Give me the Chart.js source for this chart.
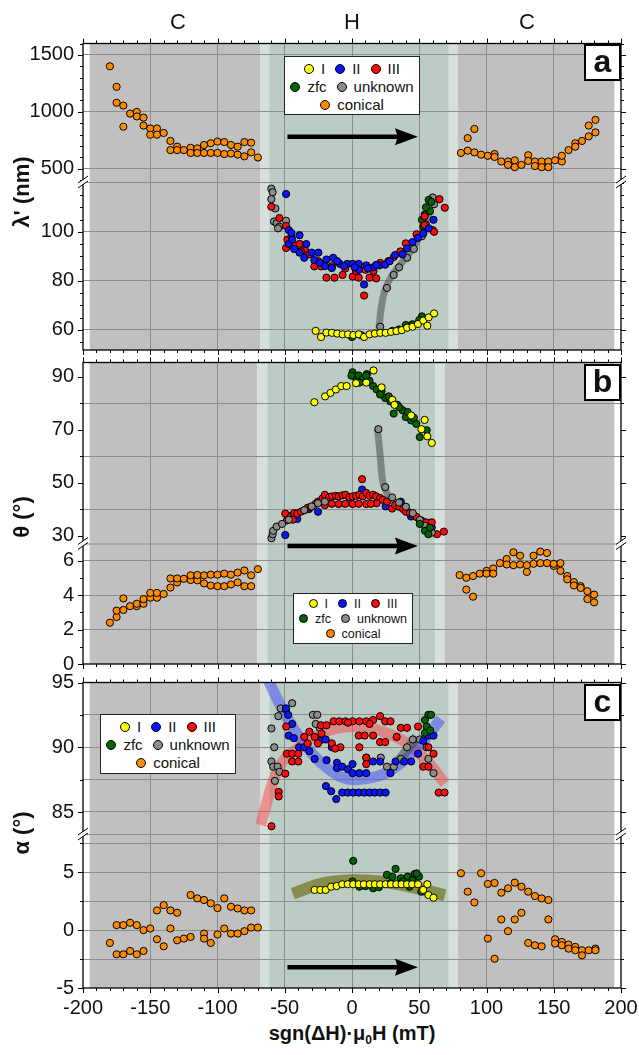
<!DOCTYPE html>
<html>
<head>
<meta charset="utf-8">
<script src="https://cdn.jsdelivr.net/npm/chart.js@4.4.0/dist/chart.umd.min.js"></script>
<style>
  body { margin: 0; background: #fff; font-family: "Liberation Sans", Arial, sans-serif; color: #111; }
  #wrap { position: relative; width: 639px; height: 1055px; overflow: hidden; }
  canvas { position: absolute; left: 0; }
  .top { position: absolute; top: 9px; font-size: 22px; line-height: 26px; transform: translateX(-50%); }
  .yt { position: absolute; font-size: 22px; font-weight: bold; white-space: nowrap; transform: translate(-50%, -50%) rotate(-90deg); }
  .xt { position: absolute; left: 352px; top: 1022px; font-size: 20px; font-weight: bold; white-space: nowrap; transform: translateX(-50%); }
  .xt sub { font-size: 12px; vertical-align: -4px; }
  .pl { position: absolute; left: 584px; width: 33px; height: 33px; border: 2px solid #000; background: #fff; font-size: 32px; font-weight: bold; text-align: center; line-height: 31px; }
  .leg { position: absolute; background: #fff; border: 1px solid #222; box-sizing: border-box; text-align: center; }
  .leg div { white-space: nowrap; }
  .leg span { display: inline-block; margin: 0 5px; }
  .leg i { display: inline-block; border: 1px solid #000; border-radius: 50%; vertical-align: middle; margin-right: 7px; position: relative; top: -1px; }
</style>
</head>
<body>
<div id="wrap">
  <canvas id="pa" width="639" height="337" style="top:25px;width:639px;height:337px"></canvas>
  <canvas id="pb" width="639" height="328" style="top:350px;width:639px;height:328px"></canvas>
  <canvas id="pc" width="639" height="352" style="top:668px;width:639px;height:352px"></canvas>

  <div class="top" style="left:178px">C</div>
  <div class="top" style="left:352px">H</div>
  <div class="top" style="left:527px">C</div>

  <div class="yt" style="left:22px;top:192px">λ' (nm)</div>
  <div class="yt" style="left:22px;top:517px">θ (°)</div>
  <div class="yt" style="left:22px;top:833px">α (°)</div>
  <div class="xt">sgn(ΔH)·μ<sub>0</sub>H (mT)</div>

  <div class="pl" style="top:44px">a</div>
  <div class="pl" style="top:364px">b</div>
  <div class="pl" style="top:684px">c</div>

  <div class="leg" id="lega" style="left:284px;top:56px;width:136px;height:59px;font-size:15px;line-height:18px;padding-top:3px"></div>
  <div class="leg" id="legb" style="left:293px;top:593px;width:120px;height:51px;font-size:12.5px;line-height:15px;padding-top:3px"></div>
  <div class="leg" id="legc" style="left:100px;top:714px;width:136px;height:60px;font-size:15px;line-height:18px;padding-top:3px"></div>
</div>

<script>
// ---- field axis and shaded regions (mT) ----
const shadeAC = [-195, -68, -61.5, 72, 78.5, 195];
const shadeB = [-195, -70.5, -63, 62, 69, 195];

// ---- panel a : lambda' (nm) ----
const aConical = [[-180,1400],[-175,1220],[-175,1080],[-170,1055],[-170,870],[-165,985],[-160,1000],[-160,960],[-155,950],[-155,880],[-150,855],[-145,855],[-150,800],[-145,800],[-140,815],[-135,745],[-135,665],[-130,695],[-130,665],[-125,665],[-120,685],[-120,640],[-115,680],[-115,640],[-110,710],[-110,640],[-105,725],[-105,640],[-100,740],[-100,640],[-95,735],[-95,630],[-90,710],[-90,635],[-85,695],[-85,625],[-80,735],[-80,610],[-75,730],[-75,645],[-70,600],
  [81,640],[86,770],[91,850],[86,660],[91,645],[96,625],[101,615],[106,630],[106,605],[111,565],[116,565],[116,535],[121,575],[121,515],[126,535],[131,620],[131,570],[136,565],[136,525],[141,565],[141,515],[146,565],[146,515],[151,575],[156,565],[156,615],[161,665],[166,725],[166,695],[171,745],[176,785],[176,880],[181,930],[181,820]];
const aYellow = [[-27,59.6],[-23,57.1],[-19,58.9],[-15,58.8],[-11,58.5],[-7,58.2],[-3,58.2],[1,57.9],[5,58.2],[9,57.1],[13,58.2],[17,58.5],[21,58.8],[25,58.8],[29,59.2],[33,59.5],[37,59.9],[41,60.9],[45,61.3],[49,62.4],[53,63.8],[57,65.1],[56,61.7],[61,66.7]];
const aBlue = [[-49,115.4],[-47,100.7],[-45,99.5],[-47,95],[-44.5,96.8],[-43,93],[-39,98.6],[-39,91.5],[-34,95],[-35.5,89.4],[-30,91.5],[-28,88.5],[-25,91.5],[-24,87.3],[-19,88.7],[-14,89.4],[-15,85.2],[-9,86.9],[-3.5,86.9],[0.5,86.9],[5,86.9],[5,84.5],[10.6,86.3],[15.7,85.5],[20.4,86.3],[24.7,86.6],[9,78.5],[28,88],[32,90.5],[37.5,90.8],[41,93.2],[45,95.8],[49,97.5],[53,99.3],[57,101.4],[60.6,104.9],[-20,86],[-11,88],[-6,86],[2,85.5],[12,85],[18,86.5]];
const aRed = [[-60,110.2],[-54,105.6],[-49,102.4],[-49,93.4],[-48,96.8],[-43,94.4],[-39,95.1],[-35,92.5],[-32,90.8],[-28,85.9],[-23,85.9],[-19,81.3],[-13,81.3],[-7,82.4],[0.5,81.7],[5,81.3],[13,81.3],[18,81],[9,74],[21,87.3],[31,89.7],[40,95.3],[48,99],[54,102.8],[60,100.7],[61,100],[65,113.3],[69,109.8],[54,106.3],[-25,88],[-15,86],[-5,85],[3,84],[10,84.5],[16,84],[27,88],[36,92],[-45,98],[-38,92]];
const aGreen = [[57,113],[59,112.2],[58,108.4],[54,107],[52,104.9],[53,102.1],[55,110],[52,65.5],[40,62],[30,59.6],[0,57.1],[7,57.8],[35,60.2],[45,62.3],[50,64]];
const aGray = [[-60,117.6],[-59,116.1],[-60,113.3],[-57,109.5],[-58,104.2],[-56,103.5],[-54,102.1],[-55,101.4],[-49,104.5],[21,61.3],[26,77.1],[31,82.4],[35,85.5],[41,89.4],[46,93],[52,98.2],[55,103],[61,111.2],[60,114]];
const aBandGray = [[20,60.5],[22,70],[25,77],[30,82.5],[35,86],[40,89.5],[45,93],[50,98],[55,104],[58,109]];
const aArrow = {from: -48, to: 49, y: 782};

// ---- panel b : theta (deg) ----
const bConical = [[-180,2.40],[-175,2.73],[-175,3.10],[-170,3.14],[-170,3.81],[-165,3.36],[-160,3.36],[-160,3.50],[-155,3.50],[-155,3.77],[-150,3.85],[-150,4.13],[-145,3.85],[-145,4.13],[-140,4.07],[-135,4.44],[-135,4.97],[-130,4.74],[-130,4.97],[-125,4.95],[-120,4.88],[-120,5.15],[-115,4.86],[-115,5.17],[-110,4.68],[-110,5.15],[-105,4.56],[-105,5.19],[-100,4.52],[-100,5.19],[-95,4.52],[-95,5.25],[-90,4.62],[-90,5.19],[-85,4.74],[-85,5.31],[-80,4.52],[-80,5.43],[-75,4.52],[-75,5.15],[-70,5.51],
  [80,5.17],[85,4.32],[85,5.01],[90,3.91],[90,5.11],[95,5.25],[100,5.41],[100,5.25],[105,5.55],[105,5.25],[110,5.86],[115,6.10],[115,5.78],[120,6.49],[120,5.74],[125,6.29],[125,5.78],[130,5.74],[130,5.35],[135,6.29],[135,5.82],[140,6.53],[140,5.86],[145,6.45],[145,5.86],[150,5.70],[150,5.82],[155,5.86],[155,5.41],[160,5.11],[160,4.92],[165,4.76],[165,4.56],[170,4.52],[170,4.42],[175,4.23],[175,3.77],[180,4.03],[180,3.58]];
const bYellow = [[-28,80.4],[-20,82.6],[-16,83.9],[-12,85.2],[-8,86.5],[-4,86.5],[3,87.6],[16,92.4],[10.6,87.8],[22,86],[30,81.3],[31.6,79.4],[44,75.4],[54,73.7],[51.6,70.2],[56,67.5],[59.3,65]];
const bGreen = [[0.4,91.7],[3,89.8],[5,90.5],[8,89.1],[11,91],[13,88.5],[15.7,86.5],[18.3,85.2],[22,84.6],[24.7,82],[28.6,80.7],[31,76.1],[33.7,79.4],[37.5,77.4],[40,74.8],[44,73.5],[47.8,72.2],[50.4,67.2],[55.5,69.8],[-0.4,90.4],[5.5,87.8],[10.6,90.4],[20.9,83.3],[27.3,82.6],[41.4,76.7],[35,78.5],[46,74.5],[54.2,31.8],[56.8,30.5],[50.4,34.4],[58,33]];
const bRed = [[-49.6,38.3],[-45.8,37],[-43,38.5],[-40.7,38.3],[-38,39],[-35.5,39.6],[-33,40.5],[-30.4,40.9],[-27,42],[-25.3,42.8],[-22,44],[-20.2,45.4],[-17,44.5],[-15,44.8],[-12,45],[-9.9,44.8],[-7,45.2],[-4.8,45.4],[-2,44.5],[0.4,44.8],[3,45],[5.5,45.4],[8,44.8],[10.6,46.1],[13,45],[15.7,45.4],[18,44.8],[20.9,44.2],[23,43.5],[26,42.8],[29.8,40.2],[32,41.5],[35,40.9],[38,40],[40.1,39],[43,38.5],[45.2,38],[48,37],[51.6,35.7],[55,35],[59.3,35],[63.2,30.5],[68.3,31.5],[7.5,51.3],[-20.2,41.5],[-9.9,41.9],[0.4,41.9],[10.6,41.9],[18.3,42.2],[-48.4,35.7],[-44,36],[-15,42],[-5,42],[5,42],[14,42]];
const bBlue = [[-49.6,30.2],[7.5,47.4],[-40.7,36.3],[-25.3,39],[36.3,42.8],[43.9,37.2],[59.3,33.1],[-45,37.5],[-32,40],[25,41],[56,32]];
const bGray = [[19.6,70.2],[24.7,48.3],[29.9,44.4],[35,42.5],[40.1,40.9],[45.2,38.5],[50.4,35.9],[54.2,33.7],[59.3,31.1],[-59.9,29],[-59,30.5],[-58.6,31.8],[-56,33.4],[-52,34.4],[-47,36],[-35.5,39.6],[-25.3,42.2],[-20.2,42.8],[-30,41]];
const bBandGray = [[19,70],[21,60],[23,50],[26,46],[30,43],[40,40],[50,36],[57,32]];
const bArrow = {from: -48, to: 49, y: 6.85};

// ---- panel c : alpha (deg) ----
const cConical = [[-180,-1.11],[-175,0.43],[-175,-2.09],[-170,0.43],[-170,-2.09],[-165,0.63],[-165,-1.8],[-160,0.43],[-160,-2.09],[-155,0],[-155,-1.8],[-150,0.14],[-145,1.7],[-145,-0.79],[-140,2.16],[-140,-1.4],[-135,1.7],[-135,0.14],[-130,1.5],[-130,-0.88],[-125,-0.73],[-120,3.03],[-120,-0.59],[-115,2.74],[-110,2.6],[-110,-0.3],[-105,2.31],[-105,-1.11],[-110,-0.73],[-100,1.9],[-100,-0.38],[-95,2.74],[-95,0.14],[-90,2.02],[-90,-0.3],[-85,1.87],[-85,-0.3],[-80,1.7],[-80,-0.09],[-75,1.7],[-75,0.22],[-70,0.22],
  [81,4.91],[86,3.32],[91,2.39],[96,4.91],[101,3.99],[106,4.07],[101,-0.73],[106,-2.47],[111,3.23],[111,0.92],[116,3.61],[116,-0.09],[121,4.1],[121,0.92],[126,3.75],[126,1.5],[131,3.32],[131,-1.11],[136,2.94],[136,-1.31],[141,2.74],[141,-1.4],[146,2.6],[146,0.92],[151,-0.79],[151,-1.16],[156,-1.02],[156,-1.31],[161,-1.25],[161,-1.6],[166,-1.45],[166,-1.74],[171,-1.74],[171,-2.18],[176,-1.74],[181,-1.6],[181,-1.74]];
const cYellow = [[-27.8,3.47],[-23.5,3.47],[-19.6,3.47],[-15.5,3.75],[-11.4,3.81],[-7.3,3.96],[-3.2,3.96],[0.9,3.96],[5,3.96],[8.8,3.96],[13.2,3.96],[17,3.96],[20.9,3.96],[25,3.96],[28.9,3.96],[32.9,3.96],[36.8,3.96],[40.9,3.96],[44.7,3.96],[49.1,3.96],[56,3.96],[52.9,3.47],[56.8,3.03],[60.6,2.8]];
const cGreenLow = [[0.9,5.98],[32.4,5.29],[26,4.77],[36.3,4.48],[41.4,4.62],[46.5,4.83],[49.8,4.62],[51.6,3.32],[5.5,3.75],[15.7,3.61],[28.6,4.04],[42.7,3.75],[0.4,4.19],[30,4.6],[38,4.2],[45,4.3],[10,3.8],[20,3.7],[48,4.9]];
const cGreenHigh = [[54.2,92.1],[56.8,92.5],[58.8,92.5],[55.5,91.6],[54.2,91.1],[58.1,91.3]];
const cBlue = [[-49.1,93],[-47.5,92.5],[-44.5,91.8],[-47.1,90.9],[-43.2,90.7],[-39.4,90],[-35.5,90],[-31.7,89.7],[-27.8,89.1],[-24,90.5],[-19.6,90.6],[-18.9,89],[-15,90],[-11.2,88.8],[-11.2,88.4],[-7.3,88.5],[-3,88.3],[0.4,88.7],[0.4,88],[5.5,88],[10.6,88],[15.7,88.9],[10.6,89.2],[20.9,88.9],[28.6,88],[32.4,88.9],[38.8,88.9],[44,88.9],[49.1,89.5],[53,90.5],[56.8,90.9],[60.6,90.9],[-19.4,87],[-15.5,86.6],[-11.7,86],[-7.3,86.5],[-3.2,86.5],[0.9,86.5],[5,86.5],[9.1,86.5],[13.2,86.5],[17,86.5],[20.9,86.5],[25,86.5]];
const cRed = [[-59.9,83.9],[-54.5,86.55],[-54.5,86.2],[-49.6,87.96],[-48.9,91.6],[-48.4,89.5],[-44.5,89.5],[-44.5,88.9],[-39.9,89.5],[-39.9,88.9],[-35.5,90.8],[-31.7,91.2],[-27.8,90.8],[-23.2,91.7],[-18.9,91.7],[-13.7,92],[-9.4,92],[-4.8,92],[0.4,92],[5.5,92],[10.6,92],[15.7,92.1],[20.9,92.4],[24.7,92],[28.6,92],[-22.7,91.06],[-15,90.3],[-8.6,90],[5.5,90],[5,90.9],[9.4,90.9],[15.7,90.9],[20.9,90.4],[24.7,90.4],[10.6,89.2],[10.6,88.7],[33.2,90.8],[36.3,91.5],[40.9,91.5],[49.1,91.6],[53,88.5],[56.8,88.5],[60.6,89.5],[64.5,86.5],[68.8,86.5],[56.8,90],[-12.5,89.9],[-33,90.3],[-25.3,90.3],[-3,91.9],[13,91.8]];
const cGray = [[-59.9,91.45],[-57.8,90],[-59.9,88.9],[-58.6,88.5],[-55.3,88.5],[-54.8,92.4],[-53,93],[-49.1,92.9],[-44.5,93.4],[-54,88.1],[-57.3,87.4],[-29.1,92.5],[-25.8,92.5],[-24,91.5],[-27,91.8],[21.4,89.2],[26,88.5],[36.3,89.1],[40.9,90],[45.2,90.6],[50.4,90.6],[55.5,90],[56.8,89.1],[60.6,88],[31.1,88.5]];
const cBandBlue = [[-66,96],[-50,92.6],[-36,90.3],[-23,88.8],[-10,87.8],[0,87.5],[12,87.6],[23,87.9],[33,88.5],[41,89.2],[54,90.6],[66,92.2]];
const cBandRed = [[-68,84],[-54,88.5],[-38,90.1],[-23,91.06],[0,91.6],[23,91.2],[41,90.3],[56,88.9],[69,87.2]];
const cBandGray = [[34,88.8],[48,90.8]];
const cBandOlive = [[-44,3.15],[-23,4.0],[0,4.3],[23,4.17],[44,3.73],[69,3.0]];
const cArrow = {from: -48, to: 49, y: -3.2};

// ---- styling ----
const GRID = '#8c8c8c';
const C_GRAY = '#c0c0c0', C_GREEN = '#bccbc3', C_EDGE = '#d6dfda';
const COL = {yellow: '#ffff00', blue: '#0a14ff', red: '#ff0a0a', green: '#006400', gray: '#8c8c8c', orange: '#ff8c00'};

Chart.defaults.font.family = '"Liberation Sans", Arial, sans-serif';
Chart.defaults.color = '#111';

const on = (v, step) => Math.abs(v / step - Math.round(v / step)) < 1e-6;
const pts = arr => arr.map(([x, y]) => ({x, y}));

// y segment definitions (axis ranges, tick step, which ticks get labels / grid lines)
const aUpper = {min: 385, max: 1600, step: 100, label: v => on(v, 500), grid: v => on(v, 500)};
const aLower = {min: 51.8, max: 120.3, step: 5, label: v => on(v, 20) && v <= 100, grid: v => on(v, 20) && v <= 100};
const bUpper = {min: 27, max: 95.4, step: 10, label: v => !on(v, 20), grid: v => on(v, 20)};
const bLower = {min: 0, max: 7, step: 1, label: v => on(v, 2), grid: v => on(v, 2) && v > 0};
const cUpper = {min: 83.3, max: 95, step: 2.5, label: v => on(v, 5), grid: v => v < 94};
const cLower = {min: -5, max: 8.3, step: 2.5, label: v => on(v, 5), grid: v => v > -4};

const frame = {
  id: 'frame',
  beforeDraw(chart, args, o) {
    const {ctx, chartArea: a} = chart;
    const x = chart.scales.x;
    const fills = [C_GRAY, C_EDGE, C_GREEN, C_EDGE, C_GRAY];
    ctx.save();
    for (let i = 0; i < 5; i++) {
      const x0 = x.getPixelForValue(o.shade[i]);
      const x1 = x.getPixelForValue(o.shade[i + 1]);
      ctx.fillStyle = fills[i];
      ctx.fillRect(x0, a.top, x1 - x0, a.bottom - a.top);
    }
    ctx.restore();
  },
  afterDatasetsDraw(chart, args, o) {
    const {ctx, chartArea: a} = chart;
    const x = chart.scales.x, yU = chart.scales.yU, yL = chart.scales.yL;
    const by = yU.bottom;
    ctx.save();

    // break line
    ctx.strokeStyle = GRID;
    ctx.lineWidth = 1;
    ctx.beginPath();
    ctx.moveTo(a.left, by + 0.5);
    ctx.lineTo(a.right, by + 0.5);
    ctx.stroke();

    // field sweep arrow
    const ar = o.arrow;
    const ay = chart.scales[ar.axis].getPixelForValue(ar.y);
    const ax0 = x.getPixelForValue(ar.from), ax1 = x.getPixelForValue(ar.to);
    ctx.strokeStyle = '#000';
    ctx.fillStyle = '#000';
    ctx.lineWidth = 4.5;
    ctx.beginPath();
    ctx.moveTo(ax0, ay);
    ctx.lineTo(ax1 - 19, ay);
    ctx.stroke();
    ctx.beginPath();
    ctx.moveTo(ax1, ay);
    ctx.lineTo(ax1 - 23, ay - 8.5);
    ctx.lineTo(ax1 - 20, ay);
    ctx.lineTo(ax1 - 23, ay + 8.5);
    ctx.closePath();
    ctx.fill();

    // frame
    ctx.lineWidth = 1.3;
    ctx.strokeRect(a.left, a.top, a.right - a.left, a.bottom - a.top);

    // tick marks, outside on all four sides
    ctx.lineWidth = 1;
    ctx.beginPath();
    for (let v = -200; v <= 200; v += 10) {
      const px = Math.round(x.getPixelForValue(v)) + 0.5;
      const len = v % 50 === 0 ? 5 : 3;
      ctx.moveTo(px, a.top);
      ctx.lineTo(px, a.top - len);
      ctx.moveTo(px, a.bottom);
      ctx.lineTo(px, a.bottom + len);
    }
    [[yU, o.upper], [yL, o.lower]].forEach(([s, r]) => {
      for (let v = Math.ceil(r.min / r.step) * r.step; v <= r.max + 1e-9; v += r.step) {
        const py = Math.round(s.getPixelForValue(v)) + 0.5;
        const len = r.label(v) ? 5 : 3;
        ctx.moveTo(a.left, py);
        ctx.lineTo(a.left - len, py);
        ctx.moveTo(a.right, py);
        ctx.lineTo(a.right + len, py);
      }
    });
    ctx.stroke();

    // axis break marks
    [a.left, a.right].forEach(bx => {
      ctx.fillStyle = '#fff';
      ctx.beginPath();
      ctx.moveTo(bx - 5, by + 1);
      ctx.lineTo(bx + 5, by - 6);
      ctx.lineTo(bx + 5, by - 1);
      ctx.lineTo(bx - 5, by + 6);
      ctx.closePath();
      ctx.fill();
      ctx.beginPath();
      ctx.moveTo(bx - 5, by + 1);
      ctx.lineTo(bx + 5, by - 6);
      ctx.moveTo(bx - 5, by + 6);
      ctx.lineTo(bx + 5, by - 1);
      ctx.stroke();
    });
    ctx.restore();
  }
};

function yScale(r, weight) {
  return {
    type: 'linear', position: 'left', stack: 'left', stackWeight: weight,
    min: r.min, max: r.max, offset: false,
    border: {display: false},
    grid: {drawTicks: false, color: c => (c.tick && r.grid(c.tick.value)) ? GRID : 'rgba(0,0,0,0)'},
    ticks: {stepSize: r.step, includeBounds: false, autoSkip: false, padding: 9, font: {size: 20},
      callback: v => r.label(v) ? String(v) : ''},
    afterFit: s => { s.width = 83; s.paddingTop = 0; s.paddingBottom = 0; }
  };
}

function makePanel(id, p) {
  const datasets = [];
  p.series.forEach((s, i) => datasets.push({
    type: 'scatter', data: pts(s.data), yAxisID: s.axis, order: i,
    pointRadius: 3.6, pointHoverRadius: 3.6, pointBorderWidth: 1,
    pointBorderColor: '#000', pointBackgroundColor: s.color
  }));
  p.bands.forEach(b => datasets.push({
    type: 'line', data: pts(b.data), yAxisID: b.axis, order: 50, showLine: true,
    borderColor: b.color, borderWidth: b.width, pointRadius: 0, tension: 0.4, fill: false
  }));

  new Chart(document.getElementById(id), {
    type: 'scatter',
    data: {datasets},
    options: {
      responsive: false, animation: false, devicePixelRatio: 1,
      layout: {autoPadding: false, padding: {top: p.padTop, right: 18, left: 0, bottom: 0}},
      plugins: {legend: {display: false}, tooltip: {enabled: false},
        frame: {shade: p.shade, upper: p.upper, lower: p.lower, arrow: p.arrow}},
      scales: {
        x: {
          type: 'linear', position: 'bottom', min: -200, max: 200,
          border: {display: false},
          grid: {drawTicks: false, color: c => (c.tick && on(c.tick.value, 50) && Math.abs(c.tick.value) < 200) ? GRID : 'rgba(0,0,0,0)'},
          ticks: {display: p.showX, stepSize: 10, autoSkip: false, maxRotation: 0, padding: 8, font: {size: 20},
            callback: v => on(v, 50) ? String(v) : ''},
          afterFit: s => { s.height = p.xHeight; s.paddingLeft = 0; s.paddingRight = 0; }
        },
        yL: yScale(p.lower, p.wL),
        yU: yScale(p.upper, p.wU)
      }
    },
    plugins: [frame]
  });
}

makePanel('pa', {
  padTop: 18.5, xHeight: 12, showX: false, wU: 138.5, wL: 168,
  upper: aUpper, lower: aLower, shade: shadeAC,
  arrow: Object.assign({axis: 'yU'}, aArrow),
  series: [
    {data: aYellow, color: COL.yellow, axis: 'yL'},
    {data: aBlue, color: COL.blue, axis: 'yL'},
    {data: aRed, color: COL.red, axis: 'yL'},
    {data: aGreen, color: COL.green, axis: 'yL'},
    {data: aGray, color: COL.gray, axis: 'yL'},
    {data: aConical, color: COL.orange, axis: 'yU'}
  ],
  bands: [{data: aBandGray, color: 'rgba(70,82,76,0.55)', width: 7, axis: 'yL'}]
});

makePanel('pb', {
  padTop: 12.5, xHeight: 14, showX: false, wU: 181, wL: 120.5,
  upper: bUpper, lower: bLower, shade: shadeB,
  arrow: Object.assign({axis: 'yL'}, bArrow),
  series: [
    {data: bYellow, color: COL.yellow, axis: 'yU'},
    {data: bGreen, color: COL.green, axis: 'yU'},
    {data: bGray, color: COL.gray, axis: 'yU'},
    {data: bRed, color: COL.red, axis: 'yU'},
    {data: bBlue, color: COL.blue, axis: 'yU'},
    {data: bConical, color: COL.orange, axis: 'yL'}
  ],
  bands: [{data: bBandGray, color: 'rgba(70,82,76,0.55)', width: 7, axis: 'yU'}]
});

makePanel('pc', {
  padTop: 14.5, xHeight: 32, showX: true, wU: 151.5, wL: 154,
  upper: cUpper, lower: cLower, shade: shadeAC,
  arrow: Object.assign({axis: 'yL'}, cArrow),
  series: [
    {data: cYellow, color: COL.yellow, axis: 'yL'},
    {data: cGreenLow, color: COL.green, axis: 'yL'},
    {data: cGreenHigh, color: COL.green, axis: 'yU'},
    {data: cRed, color: COL.red, axis: 'yU'},
    {data: cBlue, color: COL.blue, axis: 'yU'},
    {data: cGray, color: COL.gray, axis: 'yU'},
    {data: cConical, color: COL.orange, axis: 'yL'}
  ],
  bands: [
    {data: cBandGray, color: 'rgba(60,70,65,0.5)', width: 10, axis: 'yU'},
    {data: cBandBlue, color: 'rgba(60,75,255,0.5)', width: 11, axis: 'yU'},
    {data: cBandRed, color: 'rgba(255,55,55,0.45)', width: 11, axis: 'yU'},
    {data: cBandOlive, color: 'rgba(100,100,0,0.6)', width: 12, axis: 'yL'}
  ]
});

// legends (html text)
const legendRows = [
  [['I', COL.yellow], ['II', COL.blue], ['III', COL.red]],
  [['zfc', COL.green], ['unknown', COL.gray]],
  [['conical', COL.orange]]
];
function buildLegend(id, dot) {
  const box = document.getElementById(id);
  legendRows.forEach(row => {
    const line = document.createElement('div');
    row.forEach(([name, color]) => {
      const item = document.createElement('span');
      const mark = document.createElement('i');
      mark.style.width = dot + 'px';
      mark.style.height = dot + 'px';
      mark.style.background = color;
      item.appendChild(mark);
      item.appendChild(document.createTextNode(name));
      line.appendChild(item);
    });
    box.appendChild(line);
  });
}
buildLegend('lega', 8);
buildLegend('legb', 7);
buildLegend('legc', 8);
</script>
</body>
</html>
